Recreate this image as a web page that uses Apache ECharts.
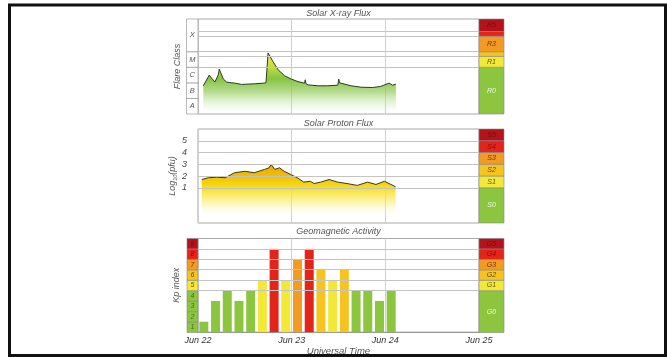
<!DOCTYPE html>
<html>
<head>
<meta charset="utf-8">
<script src="https://cdn.jsdelivr.net/npm/echarts@6/dist/echarts.min.js"></script>
<style>
  html, body { margin: 0; padding: 0; background: #fff; }
  #chart { width: 667px; height: 357px; }
</style>
</head>
<body>
<div id="chart"></div>
<script>
// x values are days since Jun 22 00 UT
const dayLabels = ['Jun 22', 'Jun 23', 'Jun 24', 'Jun 25'];

// GOES X-ray flux, log10(W/m2)
const xrayDays = [0.057, 0.12, 0.146, 0.18, 0.216, 0.227, 0.27, 0.305, 0.34, 0.394, 0.465, 0.535, 0.606, 0.695,
  0.725, 0.73, 0.748, 0.766, 0.8, 0.855, 0.926, 0.997, 1.067, 1.138, 1.145, 1.152, 1.174, 1.28, 1.386, 1.493,
  1.503, 1.512, 1.528, 1.635, 1.74, 1.865, 1.95, 2.04, 2.078, 2.113];
const xrayLog = [-6.19, -5.5, -5.7, -5.95, -5.5, -5.12, -5.75, -5.95, -5.98, -6.02, -6.1, -6.08, -6.06, -6.02,
  -6.0, -5.63, -4.08, -4.19, -4.63, -5.16, -5.55, -5.76, -5.92, -6.02, -5.8, -6.05, -6.13, -6.19, -6.19, -6.15,
  -5.76, -6.0, -6.02, -6.19, -6.28, -6.3, -6.23, -6.02, -6.15, -6.08];

// proton flux, log10(pfu)
const protonDays = [0.04, 0.11, 0.2, 0.29, 0.39, 0.5, 0.6, 0.71, 0.76, 0.78, 0.82, 0.87, 0.92, 0.99, 1.06,
  1.13, 1.2, 1.24, 1.31, 1.4, 1.49, 1.59, 1.7, 1.81, 1.9, 1.99, 2.06, 2.11];
const protonLog = [1.7, 1.85, 1.9, 1.85, 2.28, 2.4, 2.28, 2.56, 2.7, 3.0, 2.56, 2.7, 2.4, 2.13, 1.85,
  1.48, 1.55, 1.36, 1.48, 1.7, 1.48, 1.36, 1.2, 1.48, 1.28, 1.55, 1.28, 1.08];

// 3-hourly Kp from Jun 22 00 UT
const kpValues = [1, 3, 4, 3, 4, 5, 8, 5, 7, 8, 6, 5, 6, 4, 4, 3, 4];

const flareClasses = ['A', 'B', 'C', 'M', 'X'];
const flareEdges = [-8, -7, -6, -5, -4, -1.9];
const rLabels = ['R0', 'R1', 'R2', 'R3', 'R4', 'R5'];
const rEdges = [-8, -5, -4.3, -4, -3, -2.7, -1.9];
const sLabels = ['S0', 'S1', 'S2', 'S3', 'S4', 'S5'];
const sEdges = [-2, 1, 2, 3, 4, 5, 6];
const gLabels = ['G0', 'G1', 'G2', 'G3', 'G4', 'G5'];
const gEdges = [0, 4, 5, 6, 7, 8, 9];
const kpCells = [1, 2, 3, 4, 5, 6, 7, 8, 9];

const scaleFill = ['#8cc63f', '#f2e838', '#f5c41f', '#f29a22', '#e2241b', '#b5131b'];
const scaleText = ['#eef7e2', '#6c6000', '#6c4a00', '#6b3500', '#8c0c0c', '#7a0a0a'];
const levelOf = (kp) => (kp < 5 ? 0 : kp - 4);

const font = 'Liberation Sans, Arial, sans-serif';
const axisNameStyle = { color: '#555', fontStyle: 'italic', fontSize: 9, fontFamily: font };

const chart = echarts.init(document.getElementById('chart'));

function bandSeries(idx, edges, labels, fills, texts, fontSize) {
  return {
    type: 'custom',
    xAxisIndex: idx,
    yAxisIndex: idx,
    silent: true,
    data: labels.map((l, i) => [edges[i], edges[i + 1]]),
    renderItem: (params, api) => {
      const i = params.dataIndex;
      const p0 = api.coord([0, api.value(0)]);
      const p1 = api.coord([1, api.value(1)]);
      const h = p0[1] - p1[1];
      return {
        type: 'rect',
        shape: { x: p0[0], y: p1[1], width: p1[0] - p0[0], height: h },
        style: { fill: fills[i], stroke: '#888', lineWidth: 0.6 },
        textContent: h > 6 ? {
          style: { text: labels[i], fill: texts[i], fontSize: fontSize, fontStyle: 'italic', fontFamily: font }
        } : undefined,
        textConfig: { position: 'inside' }
      };
    }
  };
}

function guideLines(idx, values) {
  return {
    type: 'line',
    xAxisIndex: idx,
    yAxisIndex: idx,
    data: [],
    silent: true,
    z: 1,
    markLine: {
      silent: true,
      symbol: 'none',
      label: { show: false },
      lineStyle: { color: '#c4c4c4', width: 1, type: 'solid' },
      data: values.map((v) => ({ yAxis: v }))
    }
  };
}

const mainX = (showLabels) => ({
  type: 'value',
  min: 0,
  max: 3,
  interval: 1,
  axisLine: { show: showLabels, lineStyle: { color: '#999' } },
  axisTick: { show: false },
  splitLine: { show: true, lineStyle: { color: '#cfcfcf' } },
  axisLabel: {
    show: showLabels,
    showMinLabel: true,
    showMaxLabel: true,
    margin: 4,
    color: '#333',
    fontStyle: 'italic',
    fontSize: 9,
    fontFamily: font,
    formatter: (v) => dayLabels[Math.round(v)]
  }
});
const hiddenX = { type: 'value', min: 0, max: 1, show: false };
const hiddenY = (min, max) => ({ type: 'value', min: min, max: max, show: false });

const option = {
  animation: false,
  backgroundColor: '#fff',
  grid: [
    { left: 198, top: 19, width: 281, height: 95, show: true, borderColor: '#a8a8a8' },
    { left: 479, top: 19, width: 25, height: 95 },
    { left: 186.5, top: 19, width: 11.5, height: 95 },
    { left: 198, top: 129, width: 281, height: 94, show: true, borderColor: '#a8a8a8' },
    { left: 479, top: 129, width: 25, height: 94 },
    { left: 198, top: 238.5, width: 281, height: 94, show: true, borderColor: '#a8a8a8' },
    { left: 479, top: 238.5, width: 25, height: 94 },
    { left: 187, top: 238.5, width: 11, height: 94 }
  ],
  xAxis: [
    Object.assign(mainX(false), { gridIndex: 0 }),
    Object.assign({}, hiddenX, { gridIndex: 1 }),
    Object.assign({}, hiddenX, { gridIndex: 2 }),
    Object.assign(mainX(false), { gridIndex: 3 }),
    Object.assign({}, hiddenX, { gridIndex: 4 }),
    Object.assign(mainX(true), {
      gridIndex: 5,
      name: 'Universal Time',
      nameLocation: 'middle',
      nameGap: 13,
      nameTextStyle: Object.assign({}, axisNameStyle, { fontSize: 9.5 })
    }),
    Object.assign({}, hiddenX, { gridIndex: 6 }),
    Object.assign({}, hiddenX, { gridIndex: 7 })
  ],
  yAxis: [
    {
      gridIndex: 0, type: 'value', min: -8, max: -1.9,
      axisLine: { show: false }, axisTick: { show: false }, axisLabel: { show: false }, splitLine: { show: false },
      name: 'Flare Class', nameLocation: 'middle', nameRotate: 90, nameGap: 16, nameTextStyle: axisNameStyle
    },
    Object.assign(hiddenY(-8, -1.9), { gridIndex: 1 }),
    Object.assign(hiddenY(-8, -1.9), { gridIndex: 2 }),
    {
      gridIndex: 3, type: 'value', min: -2, max: 6, interval: 1,
      axisLine: { show: false }, axisTick: { show: false }, splitLine: { show: false },
      axisLabel: {
        margin: 11, color: '#444', fontStyle: 'italic', fontSize: 9, fontFamily: font,
        formatter: (v) => (v >= 1 && v <= 5 ? String(v) : '')
      },
      name: '{a|Log}{b|10}{a|(pfu)}', nameLocation: 'middle', nameRotate: 90, nameGap: 14,
      nameTextStyle: Object.assign({}, axisNameStyle, {
        rich: {
          a: { color: '#555', fontStyle: 'italic', fontSize: 9, fontFamily: font, lineHeight: 11 },
          b: { color: '#555', fontStyle: 'italic', fontSize: 5.5, fontFamily: font, lineHeight: 6, verticalAlign: 'bottom' }
        }
      })
    },
    Object.assign(hiddenY(-2, 6), { gridIndex: 4 }),
    {
      gridIndex: 5, type: 'value', min: 0, max: 9, interval: 1,
      axisLine: { show: false }, axisTick: { show: false }, axisLabel: { show: false }, splitLine: { show: false },
      name: 'Kp index', nameLocation: 'middle', nameRotate: 90, nameGap: 17, nameTextStyle: axisNameStyle
    },
    Object.assign(hiddenY(0, 9), { gridIndex: 6 }),
    Object.assign(hiddenY(0, 9), { gridIndex: 7 })
  ],
  graphic: [
    {
      type: 'rect', silent: true, z: 100,
      shape: { x: 9.5, y: 5, width: 656, height: 350.5 },
      style: { fill: 'none', stroke: '#111', lineWidth: 3 }
    },
    ...[['Solar X-ray Flux', 13.5], ['Solar Proton Flux', 123], ['Geomagnetic Activity', 231.5]].map(([t, y]) => ({
      type: 'text', x: 338.5, y: y, silent: true,
      style: {
        text: t, align: 'center', verticalAlign: 'middle', textAlign: 'center', textVerticalAlign: 'middle',
        fill: '#555', fontSize: 9, fontStyle: 'italic', fontFamily: font
      }
    }))
  ],
  series: [
    guideLines(0, rEdges.slice(1, -1)),
    guideLines(3, sEdges.slice(1, -1)),
    guideLines(5, gEdges.slice(1, -1)),
    bandSeries(2, flareEdges, flareClasses, flareClasses.map(() => '#fff'), flareClasses.map(() => '#555'), 7.5),
    bandSeries(1, rEdges, rLabels, scaleFill, scaleText, 7),
    bandSeries(4, sEdges, sLabels, scaleFill, scaleText, 7),
    bandSeries(6, gEdges, gLabels, scaleFill, scaleText, 7),
    bandSeries(7, kpCells.map((k) => k - 1).concat([9]), kpCells.map(String),
      kpCells.map((k) => scaleFill[levelOf(k)]), kpCells.map((k) => (k < 5 ? '#3f6e1c' : scaleText[levelOf(k)])), 7),
    {
      type: 'line',
      xAxisIndex: 0,
      yAxisIndex: 0,
      z: 3,
      showSymbol: false,
      data: xrayDays.map((d, i) => [d, xrayLog[i]]),
      lineStyle: { color: '#2b3a22', width: 1 },
      areaStyle: {
        origin: 'start',
        opacity: 1,
        color: new echarts.graphic.LinearGradient(0, 50, 0, 114, [
          { offset: 0, color: '#f0e84a' },
          { offset: 0.25, color: '#c8dc40' },
          { offset: 0.45, color: '#86c440' },
          { offset: 0.65, color: 'rgba(140,200,80,0.65)' },
          { offset: 0.9, color: 'rgba(200,235,170,0.2)' },
          { offset: 1, color: 'rgba(255,255,255,0)' }
        ], true)
      }
    },
    {
      type: 'line',
      xAxisIndex: 3,
      yAxisIndex: 3,
      z: 3,
      showSymbol: false,
      data: protonDays.map((d, i) => [d, protonLog[i]]),
      lineStyle: { color: '#3a3520', width: 1 },
      areaStyle: {
        origin: 'start',
        opacity: 1,
        color: new echarts.graphic.LinearGradient(0, 163, 0, 218, [
          { offset: 0, color: '#f0a000' },
          { offset: 0.25, color: '#f2c000' },
          { offset: 0.45, color: '#f5df20' },
          { offset: 0.7, color: 'rgba(248,235,90,0.55)' },
          { offset: 1, color: 'rgba(255,255,255,0)' }
        ], true)
      }
    },
    {
      type: 'bar',
      xAxisIndex: 5,
      yAxisIndex: 5,
      z: 3,
      barWidth: 9,
      data: kpValues.map((v, i) => ({
        value: [(i + 0.5) * 0.125, v],
        itemStyle: { color: scaleFill[levelOf(v)] }
      }))
    }
  ]
};

chart.setOption(option);
</script>
</body>
</html>
